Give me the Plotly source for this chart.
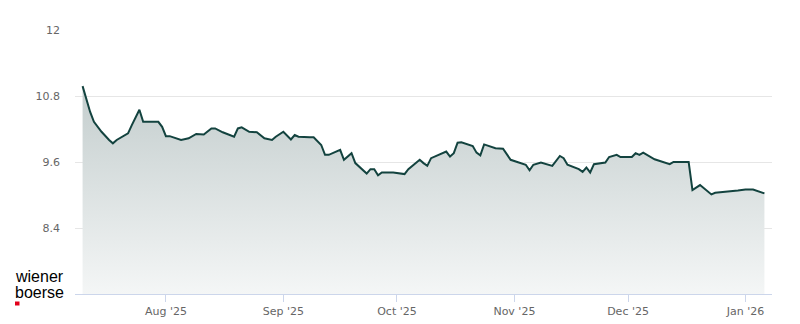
import plotly.graph_objects as go

dates = [
    "2025-07-10", "2025-07-11", "2025-07-12", "2025-07-13", "2025-07-15", "2025-07-17",
    "2025-07-18", "2025-07-19", "2025-07-22", "2025-07-23", "2025-07-25", "2025-07-26",
    "2025-07-30", "2025-07-31", "2025-08-01", "2025-08-02", "2025-08-05", "2025-08-07",
    "2025-08-09", "2025-08-11", "2025-08-13", "2025-08-14", "2025-08-16", "2025-08-19",
    "2025-08-20", "2025-08-21", "2025-08-23", "2025-08-25", "2025-08-27", "2025-08-29",
    "2025-08-30", "2025-09-01", "2025-09-03", "2025-09-04", "2025-09-05", "2025-09-08",
    "2025-09-09", "2025-09-11", "2025-09-12", "2025-09-13", "2025-09-16", "2025-09-17",
    "2025-09-19", "2025-09-20", "2025-09-23", "2025-09-24", "2025-09-25", "2025-09-26",
    "2025-09-27", "2025-09-30", "2025-10-03", "2025-10-04", "2025-10-07", "2025-10-08",
    "2025-10-09", "2025-10-10", "2025-10-11", "2025-10-14", "2025-10-15", "2025-10-16",
    "2025-10-17", "2025-10-18", "2025-10-21", "2025-10-22", "2025-10-23", "2025-10-24",
    "2025-10-27", "2025-10-29", "2025-10-31", "2025-11-02", "2025-11-04", "2025-11-05",
    "2025-11-06", "2025-11-08", "2025-11-11", "2025-11-13", "2025-11-14", "2025-11-15",
    "2025-11-18", "2025-11-19", "2025-11-20", "2025-11-21", "2025-11-22", "2025-11-25",
    "2025-11-26", "2025-11-28", "2025-11-29", "2025-12-02", "2025-12-03", "2025-12-04",
    "2025-12-05", "2025-12-08", "2025-12-10", "2025-12-12", "2025-12-13", "2025-12-17",
    "2025-12-18", "2025-12-20", "2025-12-23", "2025-12-24", "2025-12-30", "2026-01-01",
    "2026-01-03", "2026-01-06",
]
prices = [
    10.98, 10.73, 10.51, 10.33, 10.15, 10.00,
    9.94, 10.00, 10.12, 10.27, 10.55, 10.33,
    10.33, 10.24, 10.07, 10.07, 10.00, 10.03,
    10.11, 10.10, 10.21, 10.21, 10.14, 10.06,
    10.21, 10.23, 10.15, 10.14, 10.03, 10.00,
    10.06, 10.15, 10.01, 10.09, 10.06, 10.05,
    10.05, 9.91, 9.73, 9.73, 9.82, 9.64,
    9.76, 9.58, 9.39, 9.47, 9.47, 9.36,
    9.41, 9.41, 9.38, 9.47, 9.64, 9.58,
    9.53, 9.67, 9.70, 9.79, 9.70, 9.76,
    9.95, 9.96, 9.89, 9.77, 9.72, 9.92,
    9.85, 9.84, 9.64, 9.59, 9.55, 9.45,
    9.55, 9.59, 9.53, 9.71, 9.67, 9.55,
    9.47, 9.42, 9.50, 9.41, 9.56, 9.59,
    9.69, 9.73, 9.69, 9.69, 9.76, 9.73,
    9.77, 9.65, 9.61, 9.56, 9.60, 9.60,
    9.09, 9.18, 9.01, 9.04, 9.08, 9.10,
    9.10, 9.03,
]
y_ticks = [8.4, 9.6, 10.8, 12]

W, H = 800, 324
ML, MR, MT, MB = 75, 28, 30, 30
PW, PH = W - ML - MR, H - MT - MB


def px(x):
    return (x - ML) / PW


def py(y):
    return (H - MB - y) / PH


fig = go.Figure()
fig.add_trace(go.Scatter(
    x=dates, y=prices, mode="lines",
    line=dict(color="#13433f", width=2),
    fill="tozeroy",
    fillgradient=dict(type="vertical", start=7.2, stop=11.0,
                      colorscale=[[0, "rgb(244,246,246)"], [1, "rgb(195,205,205)"]]),
    hoverinfo="x+y",
    showlegend=False,
))

fig.update_layout(
    width=W, height=H,
    margin=dict(l=ML, r=MR, t=MT, b=MB),
    paper_bgcolor="white", plot_bgcolor="white",
    font=dict(family="DejaVu Sans", size=11, color="#666666"),
    xaxis=dict(
        type="date", automargin=False,
        range=["2025-07-08", "2026-01-08"],
        tick0="2025-08-01", dtick="M1", tickformat="%b '%y",
        showgrid=False, zeroline=False,
        showline=True, linecolor="#ccd6eb", linewidth=1,
        ticks="outside", ticklen=7, tickcolor="#ccd6eb",
        tickfont=dict(size=11, color="#666666"),
    ),
    yaxis=dict(
        range=[7.2, 12], automargin=False,
        tickvals=y_ticks, ticktext=[str(v) for v in y_ticks],
        showgrid=True, gridcolor="#e6e6e6", gridwidth=1,
        zeroline=False, showline=False,
        ticks="", ticklabelstandoff=14,
        tickfont=dict(size=11, color="#666666"),
    ),
)

fig.add_annotation(x=px(13), y=py(276), xref="paper", yref="paper",
                   text="wiener", showarrow=False, xanchor="left", yanchor="middle",
                   font=dict(family="Liberation Sans", size=16, color="#000000"))
fig.add_annotation(x=px(13), y=py(292), xref="paper", yref="paper",
                   text="boerse", showarrow=False, xanchor="left", yanchor="middle",
                   font=dict(family="Liberation Sans", size=16, color="#000000"))
fig.add_shape(type="rect", xref="paper", yref="paper",
              x0=px(15), x1=px(19.5), y0=py(305.5), y1=py(301.5),
              fillcolor="#e2001a", line=dict(width=0))

fig.write_html("out.html")
